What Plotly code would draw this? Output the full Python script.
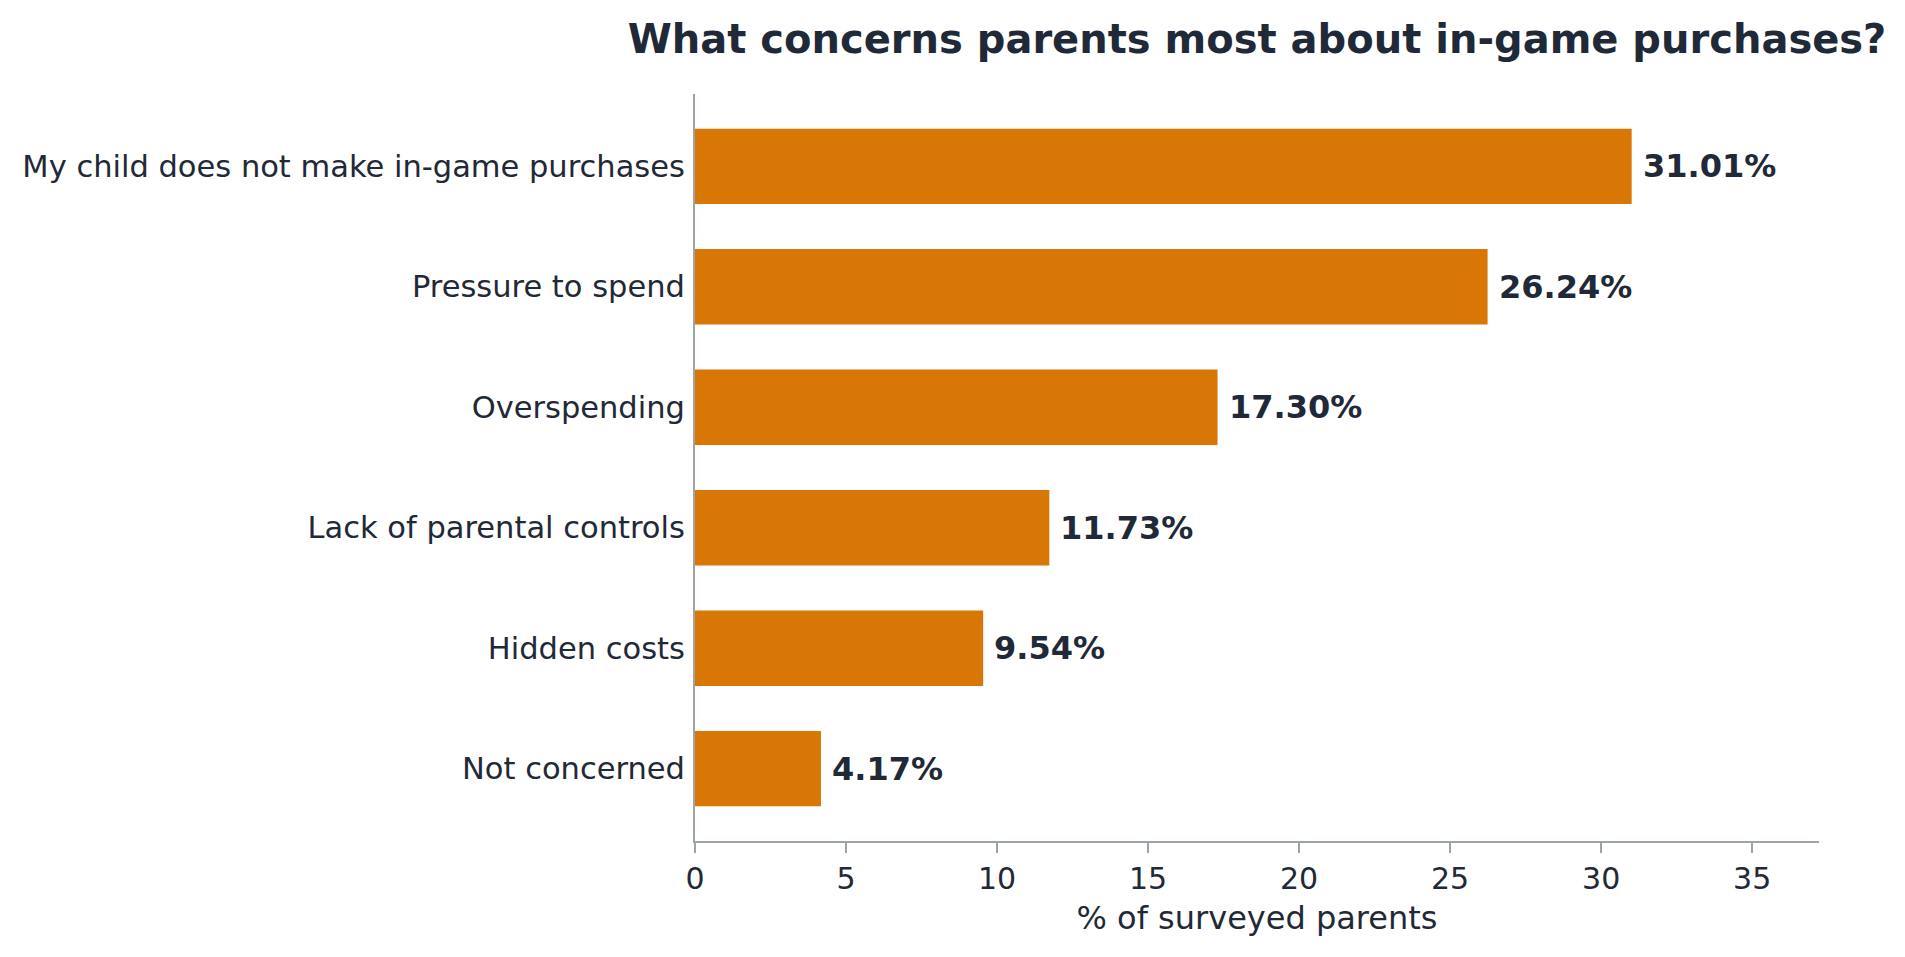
import plotly.graph_objects as go

categories = ["Not concerned", "Hidden costs", "Lack of parental controls",
              "Overspending", "Pressure to spend", "My child does not make in-game purchases"]
shares = [4.17, 9.54, 11.73, 17.30, 26.24, 31.01]
value_labels = ["4.17%", "9.54%", "11.73%", "17.30%", "26.24%", "31.01%"]
x_ticks = [0, 5, 10, 15, 20, 25, 30, 35]

ink = "#1f2937"
axis_grey = "#9ca3af"
bar_colour = "#d97706"

fig = go.Figure(go.Bar(
    y=categories, x=shares, orientation="h",
    marker=dict(color=bar_colour, line=dict(width=0)),
    hoverinfo="x+y",
))

# value labels just past the bar ends
for cat, val, lab in zip(categories, shares, value_labels):
    fig.add_annotation(x=val, y=cat, text="<b>" + lab + "</b>", showarrow=False,
                       xanchor="left", yanchor="middle", xshift=9,
                       font=dict(size=32, color=ink, family="DejaVu Sans"))

fig.update_layout(
    width=1905, height=957,
    margin=dict(l=687, r=94, t=86, b=124),
    plot_bgcolor="white", paper_bgcolor="white",
    font=dict(family="DejaVu Sans", color=ink, size=30),
    bargap=0.375,
    showlegend=False,
    title=dict(text="<b>What concerns parents most about in-game purchases?</b>",
               x=0.5, xref="paper", xanchor="center",
               y=1 - 31 / 957, yref="container", yanchor="middle",
               font=dict(size=40, color=ink, family="DejaVu Sans")),
)

fig.update_xaxes(range=[0, max(shares) * 1.2], tickvals=x_ticks, ticks="outside",
                 ticklen=10, tickwidth=2, tickcolor=axis_grey,
                 showline=True, linecolor=axis_grey, linewidth=2,
                 showgrid=False, zeroline=False,
                 tickfont=dict(size=30, color=ink),
                 title=dict(text="% of surveyed parents", standoff=12,
                            font=dict(size=32, color=ink)))
fig.update_yaxes(categoryorder="array", categoryarray=categories,
                 range=[-0.6, len(categories) - 0.4],
                 showline=True, linecolor=axis_grey, linewidth=2,
                 showgrid=False, zeroline=False, ticks="",
                 ticklabelstandoff=2,
                 tickfont=dict(size=30.5, color=ink))

fig.write_html("out.html")
